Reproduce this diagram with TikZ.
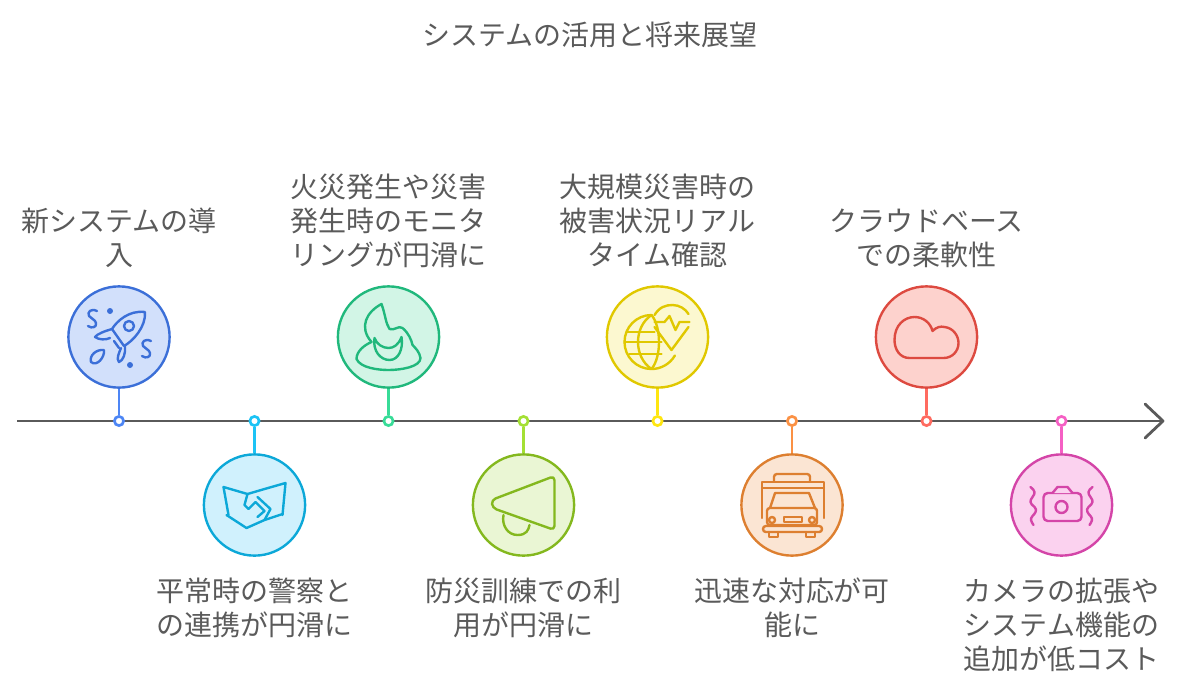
\documentclass[tikz,border=0pt]{standalone}
\usepackage{fontspec}
\setmainfont{Noto Sans CJK JP}
\usetikzlibrary{positioning}

\definecolor{axisgray}{HTML}{5A5A5A}
\definecolor{textgray}{HTML}{5A5A5A}
\definecolor{lineA}{HTML}{3B6FD8}\definecolor{fillA}{HTML}{D2E0FB}\definecolor{connA}{HTML}{4D86F5}
\definecolor{lineB}{HTML}{0CA8D8}\definecolor{fillB}{HTML}{D0F1FD}\definecolor{connB}{HTML}{1CC3F5}
\definecolor{lineC}{HTML}{20B87C}\definecolor{fillC}{HTML}{D2F5E6}\definecolor{connC}{HTML}{38DC98}
\definecolor{lineD}{HTML}{84B81E}\definecolor{fillD}{HTML}{EAF6D4}\definecolor{connD}{HTML}{A4E034}
\definecolor{lineE}{HTML}{E0C800}\definecolor{fillE}{HTML}{FCF8D0}\definecolor{connE}{HTML}{FFE610}
\definecolor{lineF}{HTML}{DD7F30}\definecolor{fillF}{HTML}{FBE5D3}\definecolor{connF}{HTML}{FB9144}
\definecolor{lineG}{HTML}{DD4A40}\definecolor{fillG}{HTML}{FDD2CD}\definecolor{connG}{HTML}{FF6B60}
\definecolor{lineH}{HTML}{D445A8}\definecolor{fillH}{HTML}{FBD2EF}\definecolor{connH}{HTML}{F55FC4}

\tikzset{
  bubble/.style={circle, draw=line#1, fill=fill#1, line width=1.7pt, minimum size=2.53cm, inner sep=0pt},
  marker/.style={circle, draw=conn#1, fill=white, line width=1.9pt, minimum size=0.23cm, inner sep=0pt},
  conn/.style={draw=conn#1, line width=1.9pt},
  icon/.style={draw=line#1, line width=1.7pt, line join=round, line cap=round},
  label/.style={font=\fontsize{19.9}{24.2}\selectfont, text=textgray, align=center, inner sep=0pt, node distance=0.42cm}
}

\begin{document}
\begin{tikzpicture}[x=0.025cm, y=-0.025cm]
  \useasboundingbox (0,0) rectangle (1181,691);

  % Title
  \node[label] (title) at (590,35) {システムの活用と将来展望};

  % Axis
  \coordinate (start) at (17,421);
  \coordinate (end) at (1163,421);
  \coordinate (headup) at (1145,404);
  \coordinate (headdown) at (1145,438);
  \draw[axisgray, line width=2pt] (start) -- (end);
  \draw[axisgray, line width=2pt, line cap=round, line join=round] (headup) -- (end) -- (headdown);

  % Stage 1
  \node[bubble=A] (c1) at (119,337) {};
  \node[marker=A] (m1) at (119,421) {};
  \draw[conn=A] (m1) -- (c1);
  \node[label, above=of c1] (l1) {新システムの導\\入};
  \begin{scope}[shift={(c1.center)}, icon=A]
    \draw (26,-25) .. controls (10,-27) and (-2,-16) .. (-7,-8) -- (5,9) .. controls (14,4) and (27,-10) .. (26,-25) -- cycle;
    \draw (10,-11) circle (5);
    \draw (-7,-8) .. controls (-14,-6) and (-22,-3) .. (-24,0) .. controls (-20,3) and (-13,3) .. (-9,1);
    \draw (-5,4) -- (0,11);
    \draw (2,11) .. controls (0,16) and (-3,22) .. (0,25) .. controls (4,24) and (7,16) .. (6,9);
    \draw (-28,25) .. controls (-30,18) and (-22,12) .. (-15,13) .. controls (-14,20) and (-22,30) .. (-28,25) -- cycle;
    \draw (-22,-26) .. controls (-28,-29) and (-32,-25) .. (-30,-21) .. controls (-28,-18) and (-24,-18) .. (-23,-14) .. controls (-22,-10) and (-27,-8) .. (-31,-11);
    \draw (32,4) .. controls (26,1) and (22,5) .. (24,9) .. controls (26,12) and (30,12) .. (31,16) .. controls (32,20) and (27,22) .. (23,19);
    \fill[lineA] (-9,-26) circle (3);
    \fill[lineA] (11,28) circle (3);
  \end{scope}

  % Stage 2
  \node[bubble=B] (c2) at (254.5,505) {};
  \node[marker=B] (m2) at (254.5,421) {};
  \draw[conn=B] (m2) -- (c2);
  \node[label, below=0.52cm of c2] (l2) {平常時の警察と\\の連携が円滑に};
  \begin{scope}[shift={(c2.center)}, icon=B]
    \draw (-31,-18) -- (-26,10);
    \draw (31,-22) -- (28,10);
    \draw (-31,-18) -- (-7,-11) -- (10,-16) -- (31,-22);
    \draw (-28,10) -- (-8,23) -- (10,15) -- (28,9);
    \draw (-7,-11) -- (-10,0) -- (-6,4) -- (1,-3) -- (10,6) -- (3,12);
    \draw (3,-8) -- (16,4) -- (10,15);
  \end{scope}

  % Stage 3
  \node[bubble=C] (c3) at (388.5,337) {};
  \node[marker=C] (m3) at (388.5,421) {};
  \draw[conn=C] (m3) -- (c3);
  \node[label, above=of c3] (l3) {火災発生や災害\\発生時のモニタ\\リングが円滑に};
  \begin{scope}[shift={(c3.center)}, icon=C]
    \draw (-17,5) .. controls (-30,-10) and (-22,-25) .. (-7,-33) .. controls (-3,-22) and (-3,-14) .. (1,-8) .. controls (6,-6) and (10,-12) .. (14,-9) .. controls (20,-4) and (23,3) .. (24,8);
    \draw (-17,5) .. controls (-24,8) and (-32,14) .. (-32,22) .. controls (-28,31) and (-10,33) .. (0,33) .. controls (12,33) and (32,30) .. (32,21) .. controls (31,15) and (27,11) .. (24,8);
    \draw (-14,1) .. controls (-16,14) and (-8,23) .. (1,23) .. controls (10,23) and (15,12) .. (13,0) .. controls (10,8) and (5,11) .. (0,11) .. controls (-6,11) and (-12,7) .. (-14,1) -- cycle;
  \end{scope}

  % Stage 4
  \node[bubble=D] (c4) at (523.5,505) {};
  \node[marker=D] (m4) at (523.5,421) {};
  \draw[conn=D] (m4) -- (c4);
  \node[label, below=0.52cm of c4] (l4) {防災訓練での利\\用が円滑に};
  \begin{scope}[shift={(c4.center)}, icon=D]
    \draw[rounded corners=3pt] (31,-29) -- (-32,-5) -- (-31,3) -- (31,25) -- cycle;
    \draw (-20,10) .. controls (-22,20) and (-16,30) .. (-6,30) .. controls (3,30) and (5,25) .. (6,20);
  \end{scope}

  % Stage 5
  \node[bubble=E] (c5) at (657.5,337) {};
  \node[marker=E] (m5) at (657.5,421) {};
  \draw[conn=E] (m5) -- (c5);
  \node[label, above=of c5] (l5) {大規模災害時の\\被害状況リアル\\タイム確認};
  \begin{scope}[shift={(c5.center)}, icon=E]
    \draw (-6,-22) arc[start angle=-90, end angle=-330, radius=27];
    \draw (-6,-22) .. controls (-24,-10) and (-24,20) .. (-6,32);
    \draw (-6,-22) .. controls (4,-10) and (4,20) .. (-6,32);
    \draw (-30,-5) -- (-3,-5);
    \draw (-33,5) -- (4,5);
    \draw (-28,17) -- (4,17);
    \draw (-3,-22) .. controls (2,-30) and (8,-32) .. (15,-32) .. controls (22,-32) and (28,-28) .. (31,-23);
    \draw (-3,-10) -- (14,13) -- (31,-10);
    \draw (-3,-15) -- (7,-15) -- (12,-21) -- (18,-7) -- (22,-15) -- (32,-15);
  \end{scope}

  % Stage 6
  \node[bubble=F] (c6) at (792,505) {};
  \node[marker=F] (m6) at (792,421) {};
  \draw[conn=F] (m6) -- (c6);
  \node[label, below=0.52cm of c6] (l6) {迅速な対応が可\\能に};
  \begin{scope}[shift={(c6.center)}, icon=F]
    \draw (-30,13) -- (-30,-23) -- (32,-23) -- (32,13);
    \draw (-30,-17) -- (32,-17);
    \draw[rounded corners=2pt] (-18,-24) -- (-18,-31) -- (18,-31) -- (18,-24);
    \draw (-22,3) -- (-17,-12) -- (17,-12) -- (23,3);
    \draw[rounded corners=2pt] (-25,3) rectangle (25,20);
    \draw[rounded corners=2pt] (-29,21) rectangle (30,27);
    \draw (-23,27) -- (-23,32) -- (-14,32) -- (-14,27);
    \draw (14,27) -- (14,32) -- (23,32) -- (23,27);
    \draw (-20,15) circle (3);
    \draw (20,15) circle (3);
    \draw (-8,12) rectangle (10,17);
  \end{scope}

  % Stage 7
  \node[bubble=G] (c7) at (926.5,337) {};
  \node[marker=G] (m7) at (926.5,421) {};
  \draw[conn=G] (m7) -- (c7);
  \node[label, above=of c7] (l7) {クラウドベース\\での柔軟性};
  \begin{scope}[shift={(c7.center)}, icon=G]
    \draw (-17,21) .. controls (-27,21) and (-32,12) .. (-32,3) .. controls (-32,-12) and (-22,-20) .. (-12,-20) .. controls (-3,-20) and (4,-14) .. (6,-6) .. controls (10,-10) and (14,-11) .. (18,-10) .. controls (27,-9) and (32,-1) .. (32,6) .. controls (32,14) and (26,21) .. (17,21) -- cycle;
  \end{scope}

  % Stage 8
  \node[bubble=H] (c8) at (1061.5,505) {};
  \node[marker=H] (m8) at (1061.5,421) {};
  \draw[conn=H] (m8) -- (c8);
  \node[label, below=0.52cm of c8] (l8) {カメラの拡張や\\システム機能の\\追加が低コスト};
  \begin{scope}[shift={(c8.center)}, icon=H]
    \draw[rounded corners=3pt] (-18,-12) rectangle (20,16);
    \draw[fill=fillH] (-9,-12) -- (-4,-18) -- (6,-18) -- (11,-12);
    \draw (0,2) circle (6);
    \draw (-31,-18) .. controls (-26,-14) and (-26,-12) .. (-29,-8) .. controls (-32,-4) and (-32,-2) .. (-27,2) .. controls (-24,5) and (-26,8) .. (-29,11) .. controls (-32,14) and (-30,17) .. (-28,20);
    \draw (31,-18) .. controls (26,-14) and (26,-12) .. (29,-8) .. controls (32,-4) and (32,-2) .. (27,2) .. controls (24,5) and (26,8) .. (29,11) .. controls (32,14) and (30,17) .. (28,20);
  \end{scope}
\end{tikzpicture}
\end{document}
